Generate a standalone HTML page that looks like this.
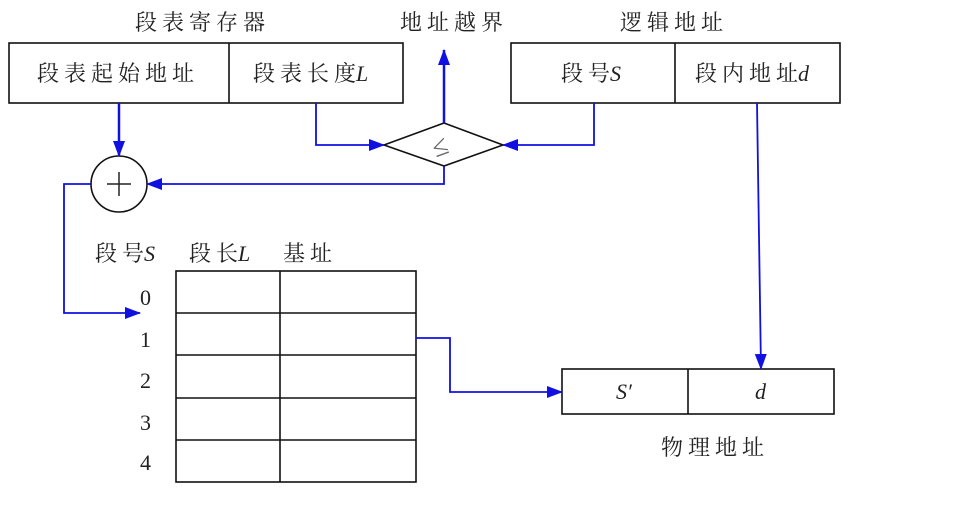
<!DOCTYPE html>
<html><head><meta charset="utf-8"><style>
body{margin:0;background:#fff;}
svg text{font-family:"Liberation Serif","Noto Serif CJK SC",serif;fill:#222;}
.n{letter-spacing:0}
</style></head><body>
<svg width="960" height="512" viewBox="0 0 960 512" xmlns="http://www.w3.org/2000/svg">
<defs><marker id="a" markerWidth="16" markerHeight="12" refX="15" refY="6" orient="auto" markerUnits="userSpaceOnUse"><path d="M0,0L16,6L0,12z" fill="#1010e0"/></marker></defs>
<g fill="none" stroke="#111" stroke-width="1.6">
<rect x="9" y="43" width="394" height="60"/><line x1="229" y1="43" x2="229" y2="103"/>
<rect x="511" y="43" width="329" height="60"/><line x1="675" y1="43" x2="675" y2="103"/>
<path d="M384,145L444,123L503,145L444,166z"/>
<circle cx="119" cy="184" r="28"/>
<rect x="176" y="271" width="240" height="211"/>
<line x1="280" y1="271" x2="280" y2="482"/>
<line x1="176" y1="313" x2="416" y2="313"/><line x1="176" y1="355" x2="416" y2="355"/>
<line x1="176" y1="398" x2="416" y2="398"/><line x1="176" y1="440" x2="416" y2="440"/>
<rect x="562" y="369" width="272" height="45"/><line x1="688" y1="369" x2="688" y2="414"/>
</g>
<g fill="none" stroke="#1010e0" stroke-width="1.8">
<line x1="119" y1="103" x2="119" y2="156" marker-end="url(#a)" stroke-width="2.5"/>
<line x1="444" y1="123" x2="444" y2="50" marker-end="url(#a)" stroke-width="2.5"/>
<polyline points="316,103 316,145 384,145" marker-end="url(#a)"/>
<polyline points="594,103 594,145 503,145" marker-end="url(#a)"/>
<polyline points="444,166 444,184 147,184" marker-end="url(#a)"/>
<polyline points="91,184 64,184 64,313 140,313" marker-end="url(#a)"/>
<line x1="757" y1="103" x2="761" y2="369" marker-end="url(#a)"/>
<polyline points="416,338 450,338 450,392 562,392" marker-end="url(#a)"/>
</g>
<g stroke="#222" stroke-width="1.5"><line x1="119" y1="172" x2="119" y2="196"/><line x1="107" y1="184" x2="131" y2="184"/></g>
<text x="432" y="154" font-size="28" transform="rotate(-20 444 145)" style="fill:#666">≤</text>
<g font-size="22" letter-spacing="5">
<text x="135" y="30">段表寄存器</text>
<text x="400" y="30">地址越界</text>
<text x="620" y="30">逻辑地址</text>
<text x="37" y="81">段表起始地址</text>
<text x="253" y="81">段表长<tspan class="n">度</tspan><tspan class="n" font-style="italic">L</tspan></text>
<text x="561" y="81">段<tspan class="n">号</tspan><tspan class="n" font-style="italic">S</tspan></text>
<text x="695" y="81">段内地<tspan class="n">址</tspan><tspan class="n" font-style="italic">d</tspan></text>
<text x="95" y="261">段<tspan class="n">号</tspan><tspan class="n" font-style="italic">S</tspan></text>
<text x="189" y="261">段<tspan class="n">长</tspan><tspan class="n" font-style="italic">L</tspan></text>
<text x="283" y="261">基址</text>
<text x="140" y="305">0</text><text x="140" y="347">1</text><text x="140" y="388">2</text><text x="140" y="430">3</text><text x="140" y="470">4</text>
<text x="616" y="399" class="n" font-style="italic">S′</text>
<text x="755" y="399" font-style="italic">d</text>
<text x="661" y="455">物理地址</text>
</g>
</svg>
</body></html>
